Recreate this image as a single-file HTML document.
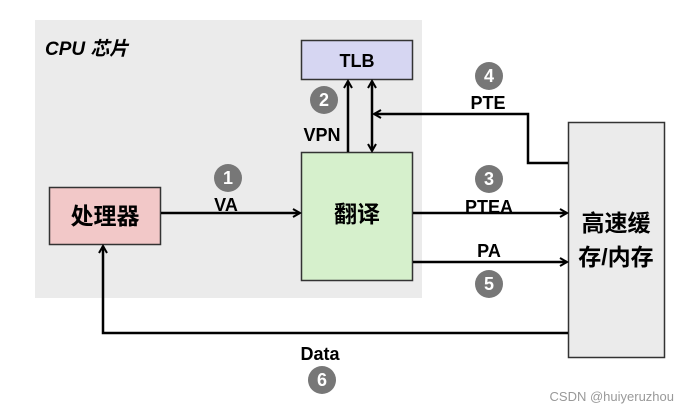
<!DOCTYPE html><html><head><meta charset="utf-8"><style>body{margin:0;background:#fff}svg{display:block}text{font-family:"Liberation Sans","Noto Sans CJK SC",sans-serif;font-weight:bold}</style></head><body>
<svg width="685" height="409" viewBox="0 0 685 409">
<defs><marker id="a" markerWidth="10" markerHeight="10" refX="8" refY="5" orient="auto-start-reverse" markerUnits="userSpaceOnUse"><path d="M1,1 L8,5 L1,9" fill="none" stroke="#000" stroke-width="2"/></marker></defs>
<rect x="35" y="20" width="387" height="278" fill="#ebebeb"/>
<text x="45" y="55" font-size="19" font-style="italic" fill="#000">CPU 芯片</text>
<rect x="301.5" y="40.5" width="111" height="39" fill="#d6d6f2" stroke="#333" stroke-width="1.5"/>
<text x="357" y="67" font-size="18" text-anchor="middle">TLB</text>
<rect x="301.5" y="152.5" width="111" height="128" fill="#d6f0cc" stroke="#333" stroke-width="1.5"/>
<text x="357" y="222" font-size="23" text-anchor="middle">翻译</text>
<rect x="49.5" y="187.5" width="111" height="57" fill="#f2c8c8" stroke="#333" stroke-width="1.5"/>
<text x="105" y="224" font-size="23" text-anchor="middle">处理器</text>
<rect x="568.5" y="122.5" width="96" height="235" fill="#ebebeb" stroke="#333" stroke-width="1.5"/>
<text x="616" y="231" font-size="23" text-anchor="middle">高速缓</text>
<text x="616" y="265" font-size="23" text-anchor="middle">存/内存</text>
<g stroke="#000" stroke-width="2.5" fill="none">
<line x1="161" y1="213" x2="300" y2="213" marker-end="url(#a)"/>
<line x1="413" y1="213" x2="567" y2="213" marker-end="url(#a)"/>
<line x1="413" y1="262" x2="567" y2="262" marker-end="url(#a)"/>
<line x1="348" y1="152" x2="348" y2="81" marker-end="url(#a)"/>
<line x1="372" y1="151" x2="372" y2="81" marker-end="url(#a)" marker-start="url(#a)"/>
<polyline points="568,163 528,163 528,114 374,114" marker-end="url(#a)"/>
<polyline points="568,333 103,333 103,246" marker-end="url(#a)"/>
</g>
<g font-size="18" text-anchor="middle">
<text x="226" y="211">VA</text><text x="322" y="141">VPN</text><text x="488" y="109">PTE</text>
<text x="489" y="213">PTEA</text><text x="489" y="257">PA</text><text x="320" y="360">Data</text>
</g>
<g fill="#777"><circle cx="228" cy="178" r="14"/><circle cx="324" cy="100" r="14"/><circle cx="489" cy="76" r="14"/><circle cx="489" cy="179" r="14"/><circle cx="489" cy="284" r="14"/><circle cx="322" cy="380" r="14"/></g>
<g fill="#fff" font-size="18" text-anchor="middle">
<text x="228" y="184">1</text><text x="324" y="106">2</text><text x="489" y="82">4</text><text x="489" y="185">3</text><text x="489" y="290">5</text><text x="322" y="386">6</text>
</g>
<text x="674" y="401" font-size="13" text-anchor="end" fill="#999" style="font-weight:normal">CSDN @huiyeruzhou</text>
</svg></body></html>
